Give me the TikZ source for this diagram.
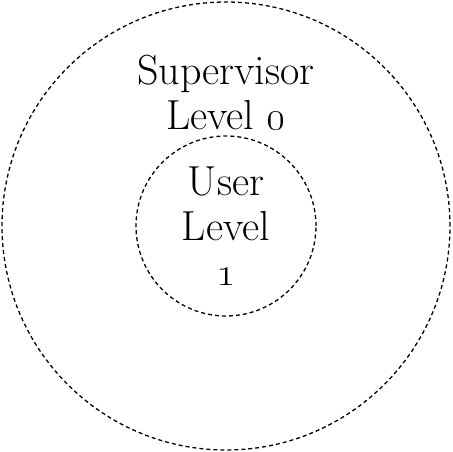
\documentclass[tikz,border=0pt]{standalone}
\tikzset{
  ring/.style={draw, circle, dash pattern=on 2pt off 1.5pt, line width=0.65pt, inner sep=0pt},
  lvl/.style={align=center, font=\fontsize{21}{22.5}\selectfont}
}
\begin{document}
\begin{tikzpicture}[x=1pt,y=1pt]
  \useasboundingbox (-113,-113) rectangle (113,113);
  \draw
    (0,0) node[ring, minimum size=224pt] (super){}
    (0,0) node[ring, minimum size=90pt] (user){}
    (0,67) node[lvl] (supertext){Supervisor\\Level \oldstylenums{0}}
    (0,0) node[lvl] (usertext){User\\Level\\\oldstylenums{1}};
\end{tikzpicture}
\end{document}
